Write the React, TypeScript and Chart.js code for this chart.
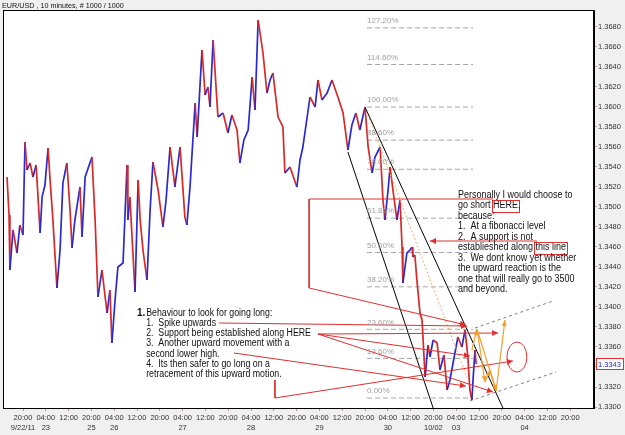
import React, { useEffect, useRef } from "react";
import { Chart, registerables } from "chart.js";
Chart.register(...registerables);

const TITLE = "EUR/USD , 10 minutes, # 1000 / 1000";

// x axis: trading hours since 9/22/11 20:00
const xTickHours = [0, 8, 16, 24, 32, 40, 48, 56, 64, 72, 80, 88, 96, 104, 112, 120, 128, 136, 144, 152, 160, 168, 176, 184, 192];
const xTickTimes = ["20:00", "04:00", "12:00", "20:00", "04:00", "12:00", "20:00", "04:00", "12:00", "20:00", "04:00", "12:00", "20:00", "04:00", "12:00", "20:00", "04:00", "12:00", "20:00", "04:00", "12:00", "20:00", "04:00", "12:00", "20:00"];
const xTickDates = ["9/22/11", "23", "", "25", "26", "", "", "27", "", "", "28", "", "", "29", "", "", "30", "", "10/02", "03", "", "", "04", "", ""];
const yTickValues = [1.33, 1.332, 1.334, 1.336, 1.338, 1.34, 1.342, 1.344, 1.346, 1.348, 1.35, 1.352, 1.354, 1.356, 1.358, 1.36, 1.362, 1.364, 1.366, 1.368];

const priceHours = [-5.6, -4.9, -4.6, -3.5, -2.1, -1.1, 0.0, 0.7, 1.4, 2.5, 3.5, 4.6, 6.0, 6.7, 7.7, 8.8, 9.5, 10.5, 11.9, 13.0, 14.0, 15.4, 16.5, 17.2, 18.2, 20.0, 20.7, 21.8, 24.2, 25.3, 26.3, 27.7, 29.5, 30.5, 31.2, 32.3, 33.3, 35.1, 36.5, 36.8, 37.5, 39.3, 40.4, 41.1, 42.1, 43.5, 44.6, 45.6, 47.4, 49.1, 50.2, 51.6, 53.3, 55.1, 56.8, 57.5, 58.6, 60.4, 61.1, 62.8, 63.9, 64.9, 65.6, 66.7, 68.4, 70.2, 71.9, 73.3, 75.1, 76.1, 77.5, 79.0, 80.4, 81.4, 82.5, 84.2, 85.6, 86.7, 87.7, 89.5, 91.2, 91.9, 93.7, 96.1, 97.2, 98.2, 100.7, 102.5, 103.5, 104.9, 106.7, 108.4, 110.5, 112.3, 114.0, 115.4, 116.8, 118.2, 120.0, 121.1, 122.5, 123.5, 125.3, 126.3, 127.0, 128.1, 128.8, 129.8, 131.2, 132.3, 133.0, 133.3, 134.7, 135.8, 136.5, 136.8, 137.5, 138.2, 139.3, 140.0, 141.1, 142.1, 142.8, 143.9, 145.3, 146.3, 147.7, 148.8, 149.8, 150.9, 152.6, 154.0, 155.1, 156.1, 156.8, 157.5, 157.9, 158.6, 159.0];
const priceValues = [1.3530, 1.3492, 1.3437, 1.3477, 1.3454, 1.3482, 1.3472, 1.3565, 1.3537, 1.3544, 1.3530, 1.3542, 1.3474, 1.3510, 1.3522, 1.3559, 1.3527, 1.3487, 1.3419, 1.3457, 1.3524, 1.3544, 1.3497, 1.3459, 1.3487, 1.3520, 1.3470, 1.3530, 1.3550, 1.3487, 1.3410, 1.3437, 1.3394, 1.3417, 1.3364, 1.3407, 1.3440, 1.3444, 1.3542, 1.3487, 1.3510, 1.3415, 1.3527, 1.3487, 1.3457, 1.3427, 1.3497, 1.3545, 1.3517, 1.3480, 1.3507, 1.3560, 1.3520, 1.3560, 1.3490, 1.3482, 1.3520, 1.3604, 1.3570, 1.3657, 1.3612, 1.3620, 1.3600, 1.3667, 1.3590, 1.3594, 1.3574, 1.3592, 1.3577, 1.3544, 1.3567, 1.3577, 1.3630, 1.3597, 1.3687, 1.3654, 1.3614, 1.3627, 1.3634, 1.3590, 1.3580, 1.3534, 1.3540, 1.3520, 1.3547, 1.3560, 1.3610, 1.3600, 1.3627, 1.3607, 1.3614, 1.3627, 1.3610, 1.3594, 1.3557, 1.3582, 1.3594, 1.3577, 1.3600, 1.3560, 1.3534, 1.3550, 1.3560, 1.3507, 1.3487, 1.3517, 1.3540, 1.3517, 1.3487, 1.3507, 1.3460, 1.3424, 1.3454, 1.3457, 1.3460, 1.3450, 1.3452, 1.3427, 1.3394, 1.3387, 1.3330, 1.3362, 1.3350, 1.3367, 1.3364, 1.3337, 1.3352, 1.3317, 1.3327, 1.3344, 1.3370, 1.3360, 1.3377, 1.3350, 1.3317, 1.3307, 1.3327, 1.3357, 1.3343];
const lastPrice = 1.3343;

const fibPercents = [127.2, 114.6, 100, 88.6, 78.6, 61.8, 50, 38.2, 23.6, 13.6, 0];
const fibLow = 1.3309;
const fibHigh = 1.3600;
const fibStartHour = 120.7;
const fibEndHour = 157.9;

const trendLower = [[114.0, 1.3555], [143.9, 1.3299]];
const trendUpper = [[120.0, 1.3600], [168.4, 1.3299]];
const trendDotted = [[120.0, 1.3600], [156.1, 1.3327]];
const channelUpper = [[158.6, 1.3379], [186.0, 1.3406]];
const channelLower = [[156.8, 1.3306], [187.0, 1.3335]];

const redPaths = [
  [[164.9, 1.3508], [100.4, 1.3508], [100.4, 1.3419], [155.4, 1.3382]],
  [[180.4, 1.3466], [142.8, 1.3466]],
  [[68.8, 1.3384], [155.8, 1.3381]],
  [[103.5, 1.3373], [166.7, 1.3374]],
  [[103.5, 1.3373], [156.8, 1.3351]],
  [[103.5, 1.3373], [164.9, 1.3315]],
  [[74.0, 1.3354], [155.4, 1.3321]],
  [[88.4, 1.3327], [88.4, 1.3309], [171.9, 1.3346]],
];
const redEllipse = { x: 173.3, y: 1.3350, rx: 3.5, ry: 0.0015 };

const orangeArrows = [
  [[157.5, 1.3357], [159.3, 1.3378]],
  [[159.3, 1.3378], [162.1, 1.3325]],
  [[162.1, 1.3325], [163.9, 1.3337]],
  [[163.9, 1.3337], [166.0, 1.3316]],
  [[166.0, 1.3316], [169.1, 1.3387]],
  [[159.3, 1.3378], [166.0, 1.3316]],
];

const noteRight = ["Personally I would choose to", "go short [HERE],", "because:", "1.  At a fibonacci level", "2.  A support is not", "establieshed along [this line]", "3.  We dont know yet whether", "the upward reaction is the", "one that will really go to 3500", "and beyond."];
const noteRightAnchor = { x: 152.6, y: 1.3512 };
const noteLeftNumber = "1.";
const noteLeft = ["Behaviour to look for going long:", "1.  Spike upwards", "2.  Support being established along HERE", "3.  Another upward movement with a", "second lower high.", "4.  Its then safer to go long on a", "retracement of this upward motion."];
const noteLeftAnchor = { x: 43.2, y: 1.3394, numX: 40.0 };

const FONT = '"Liberation Sans", Arial, Helvetica, sans-serif';
const RED = "#e03030";
const ORANGE = "#f0a030";

const toPts = (arr: number[][]) => arr.map(([x, y]) => ({ x, y }));

function arrowHead(ctx: CanvasRenderingContext2D, x0: number, y0: number, x1: number, y1: number, color: string, len = 6, w = 3) {
  const a = Math.atan2(y1 - y0, x1 - x0);
  ctx.save();
  ctx.fillStyle = color;
  ctx.beginPath();
  ctx.moveTo(x1, y1);
  ctx.lineTo(x1 - len * Math.cos(a) + w * Math.sin(a), y1 - len * Math.sin(a) - w * Math.cos(a));
  ctx.lineTo(x1 - len * Math.cos(a) - w * Math.sin(a), y1 - len * Math.sin(a) + w * Math.cos(a));
  ctx.closePath();
  ctx.fill();
  ctx.restore();
}

function drawRichLine(ctx: CanvasRenderingContext2D, line: string, x: number, y: number, size: number, sx: number) {
  const parts = line.split(/(\[[^\]]*\])/).filter((p) => p.length);
  let cx = x;
  ctx.font = `${size}px ${FONT}`;
  for (const p of parts) {
    const boxed = p.startsWith("[");
    const t = boxed ? p.slice(1, -1) : p;
    const w = ctx.measureText(t).width * sx;
    ctx.save();
    ctx.translate(cx, y);
    ctx.scale(sx, 1);
    ctx.fillStyle = "#111";
    ctx.textBaseline = "middle";
    ctx.fillText(t, 0, 0);
    ctx.restore();
    if (boxed) {
      ctx.save();
      ctx.strokeStyle = RED;
      ctx.lineWidth = 1;
      ctx.strokeRect(Math.round(cx - 1) + 0.5, Math.round(y - 6) + 0.5, Math.round(w + 2), 12);
      ctx.restore();
    }
    cx += w;
  }
}

const bgPlugin = {
  id: "bg",
  beforeDraw(chart: any) {
    const { ctx, chartArea: a } = chart;
    ctx.save();
    ctx.fillStyle = "#f0f0f0";
    ctx.fillRect(0, 0, chart.width, chart.height);
    ctx.fillStyle = "#ffffff";
    ctx.fillRect(a.left, a.top, a.right - a.left, a.bottom - a.top);
    ctx.restore();
  },
};

const annoPlugin = {
  id: "anno",
  afterDatasetsDraw(chart: any) {
    const { ctx, chartArea: a } = chart;
    const xs = chart.scales.x;
    const ys = chart.scales.y;
    const px = (v: number) => xs.getPixelForValue(v);
    const py = (v: number) => ys.getPixelForValue(v);

    // fib labels
    ctx.save();
    ctx.font = `8px ${FONT}`;
    ctx.fillStyle = "#a0a0a0";
    ctx.textBaseline = "middle";
    for (const p of fibPercents) {
      const lv = fibLow + (p / 100) * (fibHigh - fibLow);
      ctx.fillText(p.toFixed(2) + "%", px(fibStartHour), py(lv) - 7);
    }
    ctx.restore();

    // arrowheads
    for (const path of redPaths) {
      const n = path.length;
      arrowHead(ctx, px(path[n - 2][0]), py(path[n - 2][1]), px(path[n - 1][0]), py(path[n - 1][1]), RED);
    }
    for (let i = 0; i < orangeArrows.length - 1; i++) {
      const s = orangeArrows[i];
      arrowHead(ctx, px(s[0][0]), py(s[0][1]), px(s[1][0]), py(s[1][1]), ORANGE, 6, 2.5);
    }

    // ellipse
    ctx.save();
    ctx.strokeStyle = RED;
    ctx.lineWidth = 1;
    ctx.beginPath();
    const ex = px(redEllipse.x), ey = py(redEllipse.y);
    ctx.ellipse(ex, ey, Math.abs(px(redEllipse.x + redEllipse.rx) - ex), Math.abs(py(redEllipse.y + redEllipse.ry) - ey), 0, 0, Math.PI * 2);
    ctx.stroke();
    ctx.restore();

    // notes
    const rx = px(noteRightAnchor.x), ry = py(noteRightAnchor.y);
    noteRight.forEach((l, i) => drawRichLine(ctx, l, rx, ry + i * 10.5, 10, 0.9));
    const lx = px(noteLeftAnchor.x), ly = py(noteLeftAnchor.y);
    ctx.save();
    ctx.font = `bold 10px ${FONT}`;
    ctx.fillStyle = "#111";
    ctx.textBaseline = "middle";
    ctx.fillText(noteLeftNumber, px(noteLeftAnchor.numX), ly);
    ctx.restore();
    noteLeft.forEach((l, i) => drawRichLine(ctx, l, lx, ly + i * 10.2, 10, 0.88));

    // plot frame
    ctx.save();
    ctx.strokeStyle = "#000";
    ctx.lineWidth = 1;
    ctx.strokeRect(a.left + 0.5, a.top + 0.5, a.right - a.left - 1, a.bottom - a.top);
    ctx.restore();
  },
  afterDraw(chart: any) {
    const { ctx } = chart;
    const ys = chart.scales.y;
    const y = Math.round(ys.getPixelForValue(lastPrice));
    ctx.save();
    ctx.fillStyle = "#ffffff";
    ctx.fillRect(596, y - 6, 27, 12);
    ctx.strokeStyle = RED;
    ctx.strokeRect(596.5, y - 5.5, 27, 11);
    ctx.fillStyle = "#2828c8";
    ctx.font = `7.5px ${FONT}`;
    ctx.textBaseline = "middle";
    ctx.fillText(lastPrice.toFixed(4), 598, y + 0.5);
    // title
    ctx.save();
    ctx.translate(2, 6);
    ctx.scale(0.9, 1);
    ctx.fillStyle = "#111";
    ctx.font = `8px ${FONT}`;
    ctx.fillText(TITLE, 0, 0);
    ctx.restore();
    ctx.restore();
  },
};

export default function App() {
  const ref = useRef<HTMLCanvasElement>(null);
  useEffect(() => {
    document.body.style.margin = "0";
    const canvas = ref.current!;
    const lineDs = (pts: number[][], color: string, extra: any = {}) => ({
      type: "line",
      data: toPts(pts),
      borderColor: color,
      borderWidth: 1,
      pointRadius: 0,
      tension: 0,
      fill: false,
      ...extra,
    });
    const datasets: any[] = [];
    datasets.push({
      type: "line",
      data: priceHours.map((h, i) => ({ x: h, y: priceValues[i] })),
      borderWidth: 1.7,
      pointRadius: 0,
      tension: 0,
      borderColor: "#3030c0",
      segment: {
        borderColor: (c: any) => (c.p1.parsed.y >= c.p0.parsed.y ? "#2a2ad0" : "#d82828"),
      },
      order: 5,
    });
    for (const p of fibPercents) {
      const lv = fibLow + (p / 100) * (fibHigh - fibLow);
      datasets.push(lineDs([[fibStartHour, lv], [fibEndHour, lv]], "#a8a8a8", { borderDash: [5, 3], order: 10 }));
    }
    datasets.push(lineDs(trendLower, "#000000", { order: 3 }));
    datasets.push(lineDs(trendUpper, "#000000", { order: 3 }));
    datasets.push(lineDs(trendDotted, "#f5b070", { borderDash: [2, 2], order: 4 }));
    datasets.push(lineDs(channelUpper, "#606060", { borderDash: [3, 3], borderWidth: 0.8, order: 3 }));
    datasets.push(lineDs(channelLower, "#606060", { borderDash: [3, 3], borderWidth: 0.8, order: 3 }));
    for (const p of redPaths) datasets.push(lineDs(p, RED, { order: 2 }));
    for (const p of orangeArrows) datasets.push(lineDs(p, ORANGE, { borderWidth: 1.2, order: 1 }));

    const chart = new Chart(canvas, {
      type: "line",
      data: { datasets },
      options: {
        animation: false,
        responsive: false,
        maintainAspectRatio: false,
        layout: { padding: { left: 3, top: 10, right: 0, bottom: 0 } },
        plugins: { legend: { display: false }, tooltip: { enabled: false } },
        scales: {
          x: {
            type: "linear",
            min: -7.02,
            max: 200.35,
            afterBuildTicks: (s: any) => {
              s.ticks = xTickHours.map((v) => ({ value: v }));
            },
            afterFit: (s: any) => {
              s.height = 27;
            },
            ticks: {
              autoSkip: false,
              maxRotation: 0,
              padding: 1,
              color: "#333",
              font: { family: FONT, size: 7.5, lineHeight: 1.45 },
              callback: (_v: any, i: number) => [xTickTimes[i], xTickDates[i]],
            },
            grid: { drawOnChartArea: false, drawTicks: true, tickLength: 3, color: "#c89090" },
            border: { display: true, color: "#000" },
          },
          y: {
            type: "linear",
            position: "right",
            min: 1.3299,
            max: 1.3697,
            afterBuildTicks: (s: any) => {
              s.ticks = yTickValues.map((v) => ({ value: v }));
            },
            afterFit: (s: any) => {
              s.width = 31;
            },
            ticks: {
              padding: 1,
              color: "#333",
              font: { family: FONT, size: 7.5 },
              callback: (v: any) => Number(v).toFixed(4),
            },
            grid: { drawOnChartArea: false, drawTicks: true, tickLength: 3, color: "#c89090" },
            border: { display: true, color: "#000" },
          },
        },
      } as any,
      plugins: [bgPlugin, annoPlugin],
    } as any);
    return () => chart.destroy();
  }, []);
  return (
    <div style={{ width: 625, height: 435, background: "#f0f0f0" }}>
      <canvas ref={ref} width={625} height={435} style={{ display: "block" }} />
    </div>
  );
}
